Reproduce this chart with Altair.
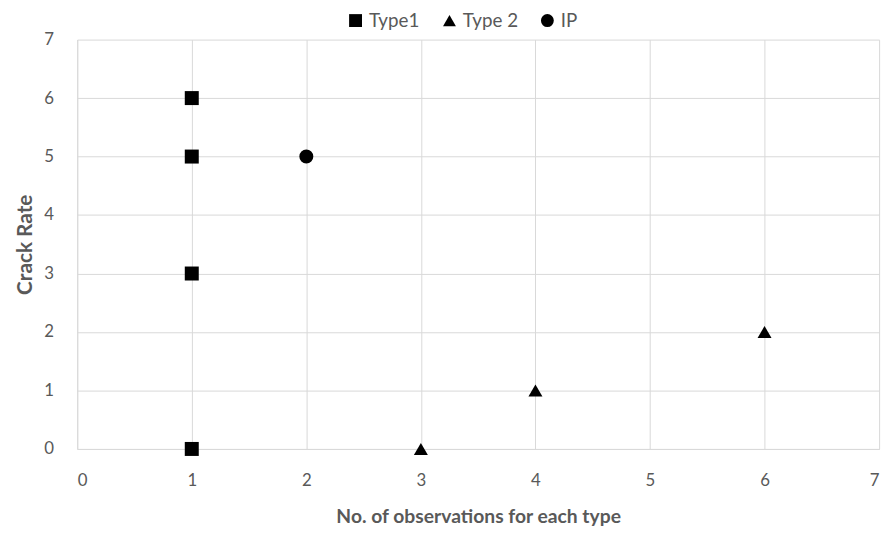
import altair as alt
import pandas as pd

series = ["Type1", "Type 2", "IP"]
type1_x = [1, 1, 1, 1]
type1_y = [6, 5, 3, 0]
type2_x = [3, 4, 6]
type2_y = [0, 1, 2]
ip_x = [2]
ip_y = [5]
tick_values = [0, 1, 2, 3, 4, 5, 6, 7]

rows = []
for name, xs, ys in [("Type1", type1_x, type1_y), ("Type 2", type2_x, type2_y), ("IP", ip_x, ip_y)]:
    for x, y in zip(xs, ys):
        rows.append({"series": name, "x": x, "y": y})
df = pd.DataFrame(rows)

FONT = "Lato"
GRAY = "#595959"

chart = alt.Chart(df).mark_point(filled=True, opacity=1, color="black", size=200).encode(
    x=alt.X("x:Q", scale=alt.Scale(domain=[0, 7], nice=False),
            axis=alt.Axis(title="No. of observations for each type", values=tick_values,
                          format="d", labelOverlap=False)),
    y=alt.Y("y:Q", scale=alt.Scale(domain=[0, 7], nice=False),
            axis=alt.Axis(title="Crack Rate", values=tick_values, format="d", labelOverlap=False,
                          titleFontSize=21)),
    shape=alt.Shape("series:N", sort=series,
                    scale=alt.Scale(domain=series, range=["square", "triangle-up", "circle"]),
                    legend=alt.Legend(title=None, orient="none", direction="horizontal",
                                      legendX=272, legendY=-29, symbolFillColor="black",
                                      symbolStrokeColor="black", symbolSize=170,
                                      labelFontSize=19, labelColor=GRAY, labelFont=FONT,
                                      columnPadding=19, labelOffset=4, labelLimit=200)),
).properties(
    width=811, height=414,
    autosize=alt.AutoSizeParams(type="none"),
    padding={"left": 70, "top": 29, "right": 9, "bottom": 78},
).configure_view(stroke=None).configure_axis(
    grid=True, gridColor="#d9d9d9", gridWidth=1,
    domainColor="#d9d9d9", domainWidth=1, ticks=False,
    labelFont=FONT, labelFontSize=17, labelColor=GRAY,
    titleFont=FONT, titleFontSize=19.5, titleFontWeight="bold", titleColor=GRAY,
).configure_axisX(titlePadding=19, labelPadding=24).configure_axisY(titlePadding=8, labelPadding=24)

chart.save("out.html", embed_options={"renderer": "svg", "actions": False})
